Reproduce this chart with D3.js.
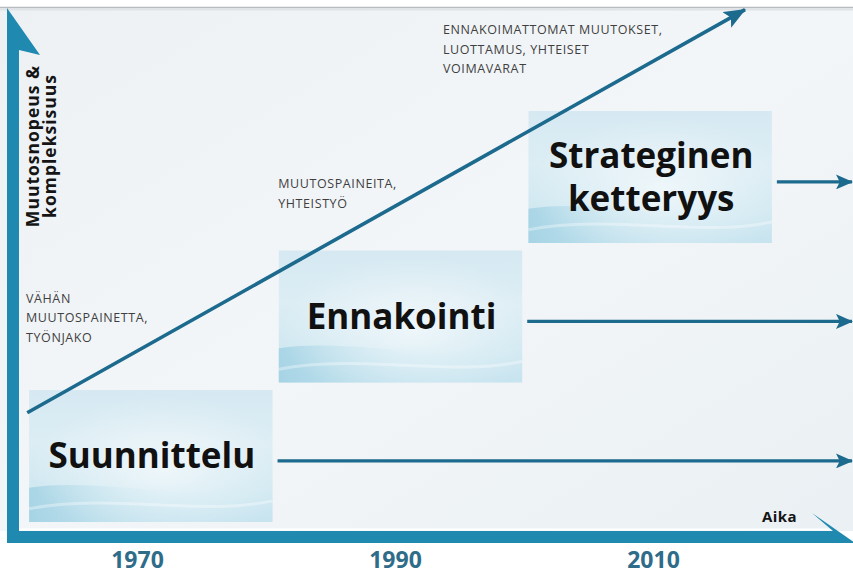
<!DOCTYPE html>
<html>
<head>
<meta charset="utf-8">
<script src="https://cdn.jsdelivr.net/npm/d3@7"></script>
<style>
  html, body { margin: 0; padding: 0; background: #ffffff; }
  svg { display: block; }
</style>
</head>
<body>
<svg id="chart" width="853" height="575"></svg>
<script>
// ---------- data ----------
const years = ["1970", "1990", "2010"];
const stageYears = [1970, 1990, 2010];
const stageLevels = [1, 2, 3];
const stageNames = [["Suunnittelu"], ["Ennakointi"], ["Strateginen", "ketteryys"]];
const notes = [
  ["VÄHÄN", "MUUTOSPAINETTA,", "TYÖNJAKO"],
  ["MUUTOSPAINEITA,", "YHTEISTYÖ"],
  ["ENNAKOIMATTOMAT MUUTOKSET,", "LUOTTAMUS, YHTEISET", "VOIMAVARAT"]
];
const noteYears = [1960, 1980.2, 1993.4];
const noteLevels = [2.10, 2.92, 4.025];
const trendYears = [1960.1, 2017.6];
const trendLevels = [1.31, 4.2];
const yTitle = ["Muutosnopeus &", "kompleksisuus"];
const xTitle = "Aika";

// ---------- setup ----------
const W = 853, H = 575;
const svg = d3.select("#chart");
const defs = svg.append("defs");

const x = d3.scaleLinear().domain([1960, 2020]).range([26, 775]);
const y = d3.scaleLinear().domain([1, 3]).range([456, 177]);
const xYear = d3.scalePoint().domain(years).range([137, 653]);

const boxHalfW = 9.75;   // years
const boxHalfH = 0.473;  // levels

const teal = "#1f89b0";
const dark = "#1c6a8d";

// gradients
const bg = defs.append("linearGradient").attr("id", "bg").attr("x1", 0).attr("y1", 0).attr("x2", 1).attr("y2", 1);
bg.append("stop").attr("offset", "0%").attr("stop-color", "#edf1f4");
bg.append("stop").attr("offset", "50%").attr("stop-color", "#f3f6f8");
bg.append("stop").attr("offset", "100%").attr("stop-color", "#eaf0f3");

const bx = defs.append("linearGradient").attr("id", "boxg").attr("x1", 0).attr("y1", 0).attr("x2", 0).attr("y2", 1);
bx.append("stop").attr("offset", "0%").attr("stop-color", "#d6e9f2");
bx.append("stop").attr("offset", "40%").attr("stop-color", "#dcedf4");
bx.append("stop").attr("offset", "75%").attr("stop-color", "#d0e8f1");
bx.append("stop").attr("offset", "100%").attr("stop-color", "#c4e2ee");

const sw = defs.append("linearGradient").attr("id", "swoosh").attr("x1", 0).attr("y1", 0).attr("x2", 1).attr("y2", 0);
sw.append("stop").attr("offset", "0%").attr("stop-color", "#9ccfe2").attr("stop-opacity", 0.75);
sw.append("stop").attr("offset", "55%").attr("stop-color", "#c3e3ef").attr("stop-opacity", 0.35);
sw.append("stop").attr("offset", "100%").attr("stop-color", "#d8edf5").attr("stop-opacity", 0.15);

const hl = defs.append("radialGradient").attr("id", "hl").attr("cx", 0.55).attr("cy", 0.6).attr("r", 0.55);
hl.append("stop").attr("offset", "0%").attr("stop-color", "#ffffff").attr("stop-opacity", 0.6);
hl.append("stop").attr("offset", "100%").attr("stop-color", "#ffffff").attr("stop-opacity", 0);

function marker(id, len, wid) {
  defs.append("marker").attr("id", id)
    .attr("viewBox", `0 0 ${len} ${wid}`)
    .attr("refX", len - 1).attr("refY", wid / 2)
    .attr("markerWidth", len).attr("markerHeight", wid)
    .attr("markerUnits", "userSpaceOnUse")
    .attr("orient", "auto")
    .append("path")
    .attr("d", `M0,0 L${len},${wid / 2} L0,${wid} L${len * 0.22},${wid / 2} Z`)
    .attr("fill", dark);
}
marker("arrH", 17, 15);
marker("arrT", 22, 18);

// ---------- background ----------
svg.append("rect").attr("x", 0).attr("y", 0).attr("width", W).attr("height", H).attr("fill", "#ffffff");
svg.append("rect").attr("x", 0).attr("y", 8).attr("width", W).attr("height", 523).attr("fill", "url(#bg)");
svg.append("line").attr("x1", 0).attr("x2", W).attr("y1", 7.5).attr("y2", 7.5)
  .attr("stroke", "#b9bcbf").attr("stroke-width", 1.5);
svg.append("line").attr("x1", 0).attr("x2", W).attr("y1", 9.5).attr("y2", 9.5)
  .attr("stroke", "#dfe3e6").attr("stroke-width", 2);

// ---------- boxes ----------
const stages = stageYears.map((yr, i) => ({ yr, lvl: stageLevels[i], name: stageNames[i] }));
const g = svg.append("g");

stages.forEach(s => {
  const x0 = x(s.yr - boxHalfW), x1 = x(s.yr + boxHalfW);
  const y0 = y(s.lvl + boxHalfH), y1 = y(s.lvl - boxHalfH);
  const w = x1 - x0, h = y1 - y0;
  const grp = g.append("g");
  grp.append("rect").attr("x", x0).attr("y", y0).attr("width", w).attr("height", h).attr("fill", "url(#boxg)");
  grp.append("path")
    .attr("d", `M${x0},${y0 + h * 0.74} C${x0 + w * 0.3},${y0 + h * 0.66} ${x0 + w * 0.65},${y0 + h * 0.86} ${x1},${y0 + h * 0.72}
                L${x1},${y1} L${x0},${y1} Z`)
    .attr("fill", "url(#swoosh)");
  grp.append("rect").attr("x", x0).attr("y", y0).attr("width", w).attr("height", h).attr("fill", "url(#hl)");
  grp.append("path")
    .attr("d", `M${x0},${y0 + h * 0.9} C${x0 + w * 0.35},${y0 + h * 0.78} ${x0 + w * 0.7},${y0 + h * 0.96} ${x1},${y0 + h * 0.84}`)
    .attr("fill", "none").attr("stroke", "#ffffff").attr("stroke-width", 3).attr("opacity", 0.35);

  g.append("line")
    .attr("x1", x1 + 5).attr("x2", W - 1)
    .attr("y1", y(s.lvl - 0.035)).attr("y2", y(s.lvl - 0.035))
    .attr("stroke", dark).attr("stroke-width", 3.2)
    .attr("marker-end", "url(#arrH)");

  const lh = 43;
  const n = s.name.length;
  const txt = grp.append("text")
    .attr("text-anchor", "middle")
    .attr("font-family", "'Open Sans', sans-serif")
    .attr("font-weight", 700)
    .attr("font-size", 35)
    .attr("fill", "#111111");
  s.name.forEach((line, k) => {
    txt.append("tspan")
      .attr("x", x(s.yr) + 1)
      .attr("y", y(s.lvl) + 12 - (n - 1) * lh / 2 + k * lh)
      .text(line);
  });
});

// ---------- trend arrow ----------
svg.append("line")
  .attr("x1", x(trendYears[0])).attr("y1", y(trendLevels[0]))
  .attr("x2", x(trendYears[1])).attr("y2", y(trendLevels[1]))
  .attr("stroke", dark).attr("stroke-width", 3.6)
  .attr("marker-end", "url(#arrT)");

// ---------- notes ----------
notes.forEach((lines, i) => {
  const t = svg.append("text")
    .attr("font-family", "'Open Sans', sans-serif")
    .attr("font-size", 12.5)
    .attr("font-weight", 500)
    .attr("letter-spacing", 0.6)
    .attr("fill", "#3f3f3f");
  lines.forEach((line, k) => {
    t.append("tspan").attr("x", x(noteYears[i])).attr("y", y(noteLevels[i]) + k * 19.5).text(line);
  });
});

// ---------- axes ----------
svg.append("path")
  .attr("d", "M7,8 L40,55 L19,50 L19,543 L7,543 Z")
  .attr("fill", teal);
svg.append("line").attr("x1", 19).attr("x2", 835).attr("y1", 529.5).attr("y2", 529.5)
  .attr("stroke", "#ffffff").attr("stroke-width", 2);
svg.append("path")
  .attr("d", "M7,531 L833,531 L812,513 L855,543 L7,543 Z")
  .attr("fill", teal);

// y title
const yt = svg.append("text")
  .attr("transform", "translate(0,146) rotate(-90)")
  .attr("text-anchor", "middle")
  .attr("font-family", "'Open Sans', sans-serif")
  .attr("font-weight", 700)
  .attr("font-size", 17.5)
  .attr("letter-spacing", 1)
  .attr("fill", "#151515");
yTitle.forEach((line, k) => {
  yt.append("tspan").attr("x", 0).attr("y", 39 + k * 16.5).text(line);
});

// x title
svg.append("text")
  .attr("x", 797).attr("y", 522)
  .attr("text-anchor", "end")
  .attr("font-family", "'Open Sans', sans-serif")
  .attr("font-weight", 700)
  .attr("font-size", 15)
  .attr("letter-spacing", 0.4)
  .attr("fill", "#151515")
  .text(xTitle);

// year axis
const xa = svg.append("g").attr("transform", "translate(0,568)")
  .call(d3.axisBottom(xYear).tickSize(0).tickPadding(0));
xa.select(".domain").remove();
xa.selectAll("text")
  .attr("y", 0)
  .attr("dy", 0)
  .attr("font-family", "'Open Sans', sans-serif")
  .attr("font-weight", 700)
  .attr("font-size", 23)
  .attr("fill", "#2f6c8a");
</script>
</body>
</html>
